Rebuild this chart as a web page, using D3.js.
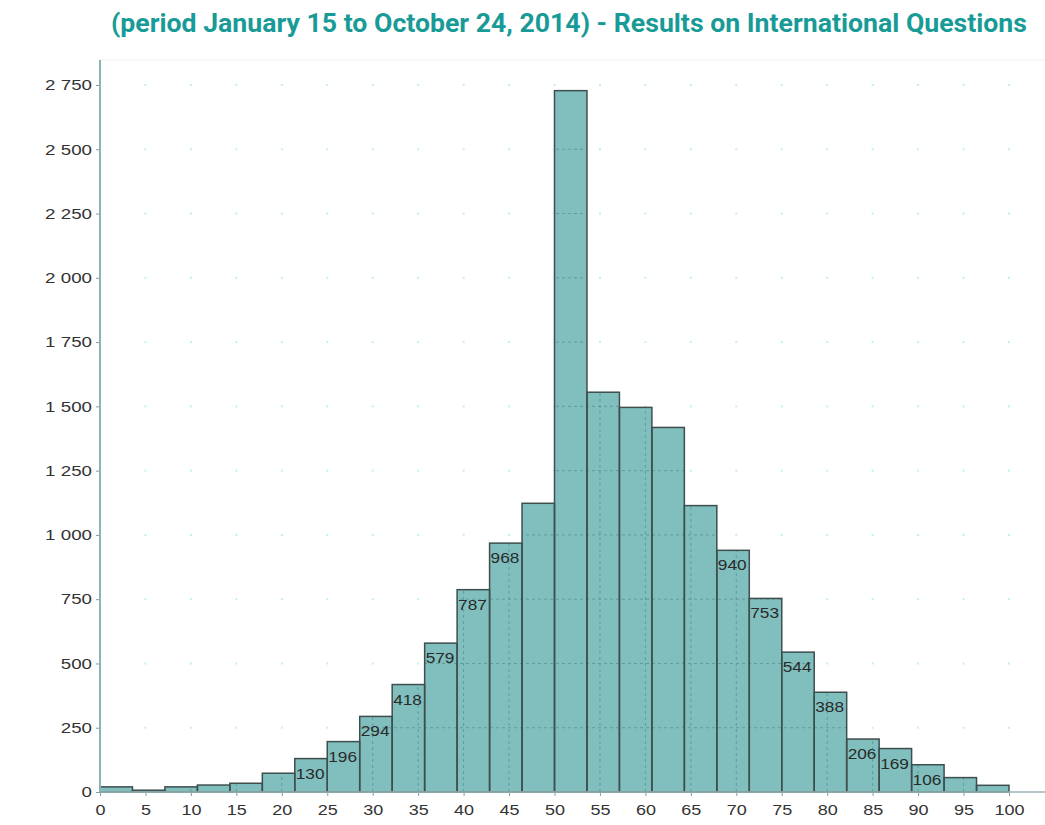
<!DOCTYPE html>
<html>
<head>
<meta charset="utf-8">
<script src="https://cdn.jsdelivr.net/npm/d3@7"></script>
<style>
  body { margin: 0; background: #fff; }
  svg { display: block; }
</style>
</head>
<body>
<svg id="chart" width="1045" height="825"></svg>
<script>
// counts per score bin (28 bins from 0 to 100)
const binCounts = [20, 7, 20, 27, 34, 73, 130, 196, 294, 418, 579, 787, 968, 1123,
  2728, 1555, 1496, 1418, 1114, 940, 753, 544, 388, 206, 169, 106, 56, 26];
// bins that carry a value label
const labelledBins = [6, 7, 8, 9, 10, 11, 12, 19, 20, 21, 22, 23, 24, 25];
const xTicks = d3.range(0, 101, 5);
const yTicks = [0, 250, 500, 750, 1000, 1250, 1500, 1750, 2000, 2250, 2500, 2750];
const titleText = "(period January 15 to October 24, 2014) - Results on International Questions";

const svg = d3.select("#chart");

const x = d3.scaleLinear().domain([0, 100]).range([100, 1009]);
const y = d3.scaleLinear().domain([0, 2750]).range([792, 85]);
const band = d3.scaleBand().domain(d3.range(binCounts.length)).range([x(0), x(100)]).padding(0);

svg.append("text")
  .attr("x", 111).attr("y", 32)
  .attr("textLength", 916).attr("lengthAdjust", "spacingAndGlyphs")
  .style("font-family", "Roboto, 'Open Sans', sans-serif")
  .style("font-weight", "bold").style("font-size", "25px")
  .style("fill", "#189b97")
  .text(titleText);

// faint frame on top
svg.append("line").attr("x1", 100).attr("x2", 1045).attr("y1", 60).attr("y2", 60)
  .style("stroke", "#f0f0f0").style("stroke-width", 1);

// grid dots on white area
const gridRows = yTicks.filter(d => d > 0);
const gridCols = xTicks.filter(d => d > 0);
const dots = [];
gridRows.forEach(r => gridCols.forEach(c => dots.push([c, r])));
svg.append("g").selectAll("rect").data(dots).join("rect")
  .attr("x", d => x(d[0]) - 1).attr("y", d => y(d[1]) - 1)
  .attr("width", 2).attr("height", 2)
  .style("fill", "#c4eef0");

// bars
svg.append("g").selectAll("rect").data(binCounts).join("rect")
  .attr("x", (d, i) => band(i))
  .attr("y", d => y(d))
  .attr("width", band.bandwidth())
  .attr("height", d => y(0) - y(d))
  .style("fill", "#80bfbe");

// dashed grid visible through bars
const clip = svg.append("clipPath").attr("id", "barclip");
clip.selectAll("rect").data(binCounts).join("rect")
  .attr("x", (d, i) => band(i)).attr("y", d => y(d))
  .attr("width", band.bandwidth()).attr("height", d => y(0) - y(d));
const grid = svg.append("g").attr("clip-path", "url(#barclip)")
  .style("stroke", "#5f9c9c").style("stroke-width", 1).style("stroke-dasharray", "3,3");
grid.selectAll(".h").data(gridRows).join("line").attr("class", "h")
  .attr("x1", x(0)).attr("x2", x(100)).attr("y1", d => y(d)).attr("y2", d => y(d));
grid.selectAll(".v").data(gridCols).join("line").attr("class", "v")
  .attr("x1", d => x(d)).attr("x2", d => x(d)).attr("y1", y(0)).attr("y2", y(2750));

// bar outlines
svg.append("g").selectAll("rect").data(binCounts).join("rect")
  .attr("x", (d, i) => band(i))
  .attr("y", d => y(d))
  .attr("width", band.bandwidth())
  .attr("height", d => y(0) - y(d))
  .style("fill", "none").style("stroke", "#3e4e4e").style("stroke-width", 1.5);

// value labels
svg.append("g").selectAll("text").data(labelledBins).join("text")
  .attr("transform", i => `translate(${band(i) + 1},${y(binCounts[i]) + 20}) scale(1.15,1)`)
  .style("font-family", "'Liberation Sans', Arial, sans-serif")
  .style("font-size", "15px").style("fill", "#2a2a2a")
  .text(i => binCounts[i]);

// axes
const fmt = d => d3.format(",")(d).replace(",", " ");
const yAxis = svg.append("g").attr("transform", `translate(${x(0)},0)`)
  .call(d3.axisLeft(y).tickValues(yTicks).tickSize(4).tickFormat(fmt));
const xAxis = svg.append("g").attr("transform", `translate(0,${y(0)})`)
  .call(d3.axisBottom(x).tickValues(xTicks).tickSize(4));

[yAxis, xAxis].forEach(a => {
  a.select(".domain").remove();
  a.selectAll(".tick line").style("stroke", "#7f9f9f");
  a.selectAll("text")
    .style("font-family", "'Liberation Sans', Arial, sans-serif")
    .style("font-size", "15px").style("fill", "#333");
});
yAxis.selectAll("text").attr("x", -8 / 1.25).attr("transform", "scale(1.25,1)");
xAxis.selectAll("text").attr("y", 12).attr("transform", "scale(1.2,1)");

svg.append("line").attr("x1", x(0)).attr("x2", x(0)).attr("y1", 60).attr("y2", y(0))
  .style("stroke", "#8cb4b6").style("stroke-width", 2);
svg.append("line").attr("x1", x(0)).attr("x2", 1045).attr("y1", y(0)).attr("y2", y(0))
  .style("stroke", "#98b6b6").style("stroke-width", 1.5);
</script>
</body>
</html>
